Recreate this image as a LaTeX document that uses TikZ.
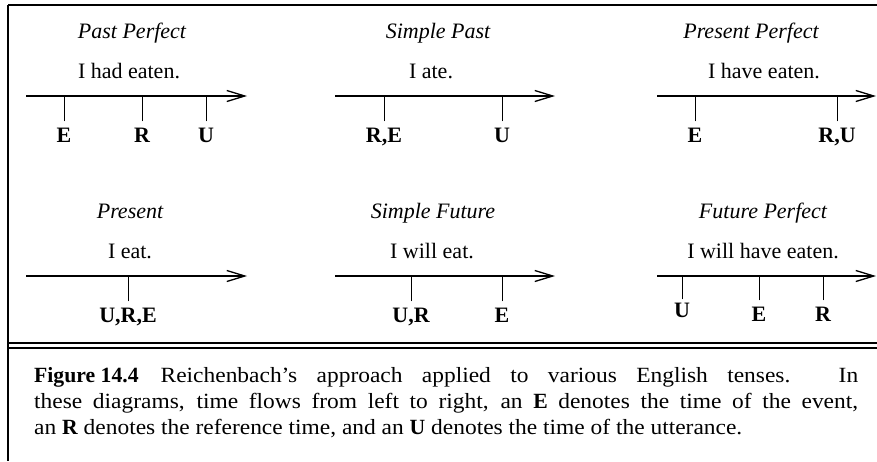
\documentclass[tikz,border=0pt]{standalone}
\usepackage{fontspec}
\setmainfont{Liberation Serif}
\newfontfamily\capfont{Liberation Serif}[Ligatures=TeX,FakeStretch=1.08]
\newfontfamily\capbf{Liberation Serif}[Ligatures=TeX]
\usetikzlibrary{arrows.meta}

\tikzset{
  tense/.style={anchor=base,font=\fontsize{22}{26}\selectfont\itshape},
  sentence/.style={anchor=base,font=\fontsize{22}{26}\selectfont},
  timept/.style={anchor=base,font=\fontsize{22}{26}\selectfont\bfseries,inner xsep=0pt,inner ysep=6pt},
  timeline/.style={line width=1.3pt,-{Straight Barb[length=18pt,width=11pt]}},
  tick/.style={line width=1pt},
  rule/.style={line width=1.7pt},
}
\newcommand{\capb}[1]{{\capbf\bfseries #1}}

\begin{document}
\begin{tikzpicture}[x=1pt,y=-1pt]
\useasboundingbox (0,0) rectangle (877,461);
% frame
\draw[rule,line width=2pt] (877,5) -- (8,5);
\draw[rule] (8,5) -- (8,461);
\draw[rule] (8,343) -- (877,343);
\draw[rule] (8,348) -- (877,348);

% past perfect
\node[tense] (pp) at (132,38) {Past Perfect};
\node[sentence] (pp-s) at (129,78) {I had eaten.};
\coordinate (pp-a) at (26,96);
\coordinate (pp-b) at (247,96);
\draw[timeline] (pp-a) -- (pp-b);
\node[timept] (pp-E) at (64,142) {E};
\node[timept] (pp-R) at (142,142) {R};
\node[timept] (pp-U) at (206,142) {U};
\draw[tick] (pp-E.north) -- (pp-E.north |- pp-a);
\draw[tick] (pp-R.north) -- (pp-R.north |- pp-a);
\draw[tick] (pp-U.north) -- (pp-U.north |- pp-a);

% simple past
\node[tense] (sp) at (438,38) {Simple Past};
\node[sentence] (sp-s) at (431,78) {I ate.};
\coordinate (sp-a) at (335,96);
\coordinate (sp-b) at (555,96);
\draw[timeline] (sp-a) -- (sp-b);
\node[timept] (sp-RE) at (384,142) {R,E};
\node[timept] (sp-U) at (502,142) {U};
\draw[tick] (sp-RE.north) -- (sp-RE.north |- sp-a);
\draw[tick] (sp-U.north) -- (sp-U.north |- sp-a);

% present perfect
\node[tense] (prp) at (751,38) {Present Perfect};
\node[sentence] (prp-s) at (764,78) {I have eaten.};
\coordinate (prp-a) at (657,96);
\coordinate (prp-b) at (876,96);
\draw[timeline] (prp-a) -- (prp-b);
\node[timept] (prp-E) at (695,142) {E};
\node[timept] (prp-RU) at (837,142) {R,U};
\draw[tick] (prp-E.north) -- (prp-E.north |- prp-a);
\draw[tick] (prp-RU.north) -- (prp-RU.north |- prp-a);

% present
\node[tense] (pr) at (130,218) {Present};
\node[sentence] (pr-s) at (130,258) {I eat.};
\coordinate (pr-a) at (26,276);
\coordinate (pr-b) at (247,276);
\draw[timeline] (pr-a) -- (pr-b);
\node[timept] (pr-URE) at (128,322) {U,R,E};
\draw[tick] (pr-URE.north) -- (pr-URE.north |- pr-a);

% simple future
\node[tense] (sf) at (433,218) {Simple Future};
\node[sentence] (sf-s) at (432,258) {I will eat.};
\coordinate (sf-a) at (335,276);
\coordinate (sf-b) at (555,276);
\draw[timeline] (sf-a) -- (sf-b);
\node[timept] (sf-UR) at (411,322) {U,R};
\node[timept] (sf-E) at (502,322) {E};
\draw[tick] (sf-UR.north) -- (sf-UR.north |- sf-a);
\draw[tick] (sf-E.north) -- (sf-E.north |- sf-a);

% future perfect
\node[tense] (fp) at (763,218) {Future Perfect};
\node[sentence] (fp-s) at (763,258) {I will have eaten.};
\coordinate (fp-a) at (657,276);
\coordinate (fp-b) at (876,276);
\draw[timeline] (fp-a) -- (fp-b);
\node[timept,inner ysep=3pt] (fp-U) at (682,317) {U};
\node[timept] (fp-E) at (759,321) {E};
\node[timept] (fp-R) at (823,321) {R};
\draw[tick] (fp-U.north) -- (fp-U.north |- fp-a);
\draw[tick] (fp-E.north) -- (fp-E.north |- fp-a);
\draw[tick] (fp-R.north) -- (fp-R.north |- fp-a);

% caption
\node[anchor=north west,inner sep=0pt,text width=824pt,align=justify,
      font=\fontsize{21.7}{26}\capfont] (cap) at (34,367)
  {\capb{Figure\hspace{0.25em}14.4}\hspace{22pt}Reichenbach’s approach applied to various English tenses. In\linebreak
   these diagrams, time flows from left to right, an \capb{E} denotes the time of the event,\linebreak
   an \capb{R} denotes the reference time, and an \capb{U} denotes the time of the utterance.};
\end{tikzpicture}
\end{document}
